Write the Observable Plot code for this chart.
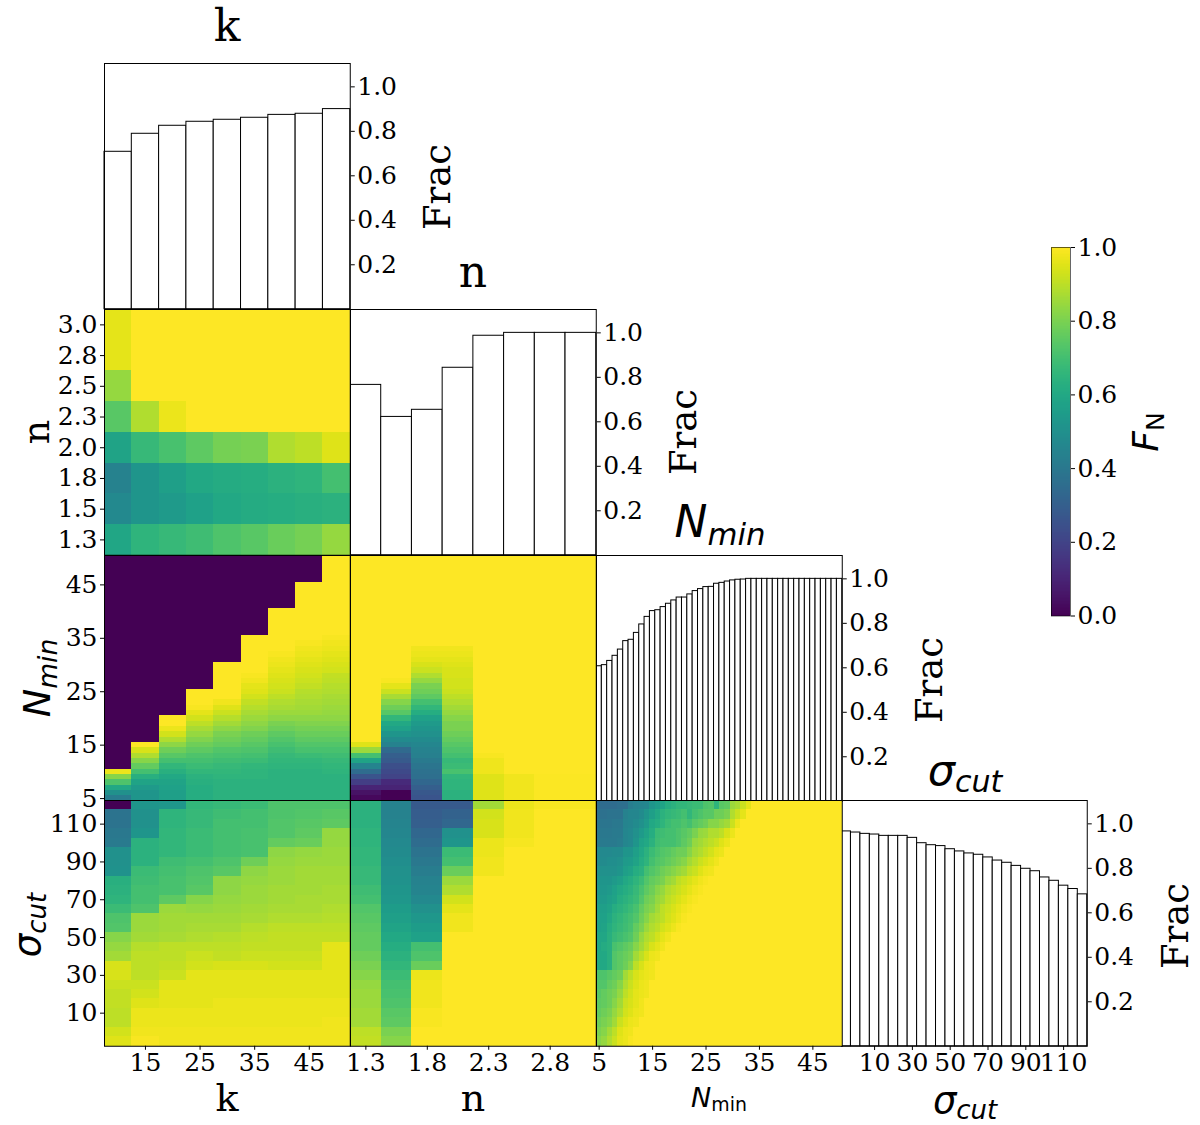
<!DOCTYPE html>
<html><head><meta charset="utf-8">
<script src="https://cdn.jsdelivr.net/npm/d3@7"></script>
<script src="https://cdn.jsdelivr.net/npm/@observablehq/plot@0.6"></script>
<style>
html,body{margin:0;padding:0;background:#fff}
#fig{position:relative;width:1200px;height:1125px;overflow:hidden}
#fig svg{position:absolute;max-width:none;background:none;overflow:visible}
.lab{position:absolute;white-space:nowrap;line-height:1;color:#000}
.lab sub{font-size:.7em;line-height:0;vertical-align:-.25em}
.serif{font-family:"DejaVu Serif",serif}
.sans{font-family:"DejaVu Sans",sans-serif}
</style></head><body><div id="fig"></div>
<script>
const kBins=[10,15,20,25,30,35,40,45,50];
const nBins=[1.25,1.5,1.75,2,2.25,2.5,2.75,3];
const nminBins=[5,6,7,8,9,10,11,12,13,14,15,16,17,18,19,20,21,22,23,24,25,26,27,28,29,30,31,32,33,34,35,36,37,38,39,40,41,42,43,44,45,46,47,48,49,50];
const sigmaBins=[-5,0,5,10,15,20,25,30,35,40,45,50,55,60,65,70,75,80,85,90,95,100,105,110,115,120];
const kTicks=[15,25,35,45], nTicks=[1.25,1.75,2.25,2.75], nminTicks=[5,15,25,35,45], sigmaTicks=[10,30,50,70,90,110];
const fracTicks=[0.2,0.4,0.6,0.8,1.0], colorbarTicks=[0,0.2,0.4,0.6,0.8,1.0];

const fracK=[.708,.789,.825,.843,.852,.861,.874,.879,.90];
const fracN=[.766,.622,.654,.843,.987,1,1,1];
const fracNmin=[.607,.612,.631,.654,.682,.72,.726,.757,.795,.829,.855,.859,.873,.888,.903,.916,.916,.93,.945,.954,.963,.964,.978,.982,.988,.993,.996,.997,1,1,1,1,1,1,1,1,1,1,1,1,1,1,1,1,1,1];
const fracSigma=[.966,.961,.955,.952,.946,.946,.946,.937,.913,.904,.9,.886,.876,.867,.861,.849,.835,.825,.811,.798,.787,.759,.744,.722,.707,.683];

// rows n = 3.0 ... 1.25, columns k
const heatKN=[
[.96,1,1,1,1,1,1,1,1],
[.96,1,1,1,1,1,1,1,1],
[.84,1,1,1,1,1,1,1,1],
[.74,.88,.97,1,1,1,1,1,1],
[.58,.67,.71,.75,.79,.8,.88,.9,.95],
[.44,.52,.56,.6,.61,.62,.64,.65,.7],
[.47,.52,.54,.57,.6,.61,.62,.63,.64],
[.59,.65,.67,.69,.72,.74,.77,.79,.84]];

// columns k, values from Nmin=5 up; saturated to 1 up to Nmin=k, 0 above
const heatKNmin=[
[.42,.5,.6,.72,.82,.97],
[.52,.52,.54,.58,.63,.7,.76,.82,.88,.94],
[.56,.56,.57,.58,.6,.63,.66,.7,.74,.78,.83,.88,.93,.97],
[.62,.62,.62,.63,.64,.66,.68,.7,.72,.75,.78,.81,.84,.87,.9,.93,.96,.99],
[.64,.64,.64,.64,.65,.66,.67,.69,.71,.73,.76,.78,.8,.83,.86,.89,.92,.95,.98],
[.64,.64,.64,.64,.65,.65,.66,.68,.7,.72,.74,.76,.78,.81,.83,.85,.87,.89,.91,.93,.95,.96,.98,.99],
[.64,.64,.64,.64,.64,.64,.65,.66,.67,.69,.71,.73,.75,.78,.8,.83,.85,.87,.88,.9,.92,.93,.94,.95,.96,.97,.98,.99],
[.64,.64,.64,.64,.64,.64,.65,.66,.68,.71,.73,.75,.77,.79,.81,.83,.85,.86,.87,.88,.89,.91,.92,.93,.94,.95,.96,.97,.98,.99],
[.64,.64,.64,.64,.64,.65,.66,.67,.69,.71,.73,.75,.77,.79,.81,.83,.84,.85,.86,.87,.88,.89,.9,.91,.93,.94,.95,.96,.97,.98,.99]];

// columns n, values from Nmin=5 up; saturated to 1 above
const heatNNmin=[
[.02,.05,.1,.18,.26,.35,.45,.58,.7,.85,.95],
[0,0,.1,.12,.2,.22,.24,.28,.3,.34,.44,.48,.52,.57,.6,.66,.74,.78,.82,.87,.92,.96,.99],
[.26,.27,.3,.33,.36,.37,.39,.41,.43,.44,.46,.48,.5,.52,.54,.57,.62,.66,.7,.75,.78,.8,.84,.88,.92,.94,.96,.97,.98],
[.64,.64,.65,.65,.66,.71,.68,.67,.7,.72,.74,.76,.78,.8,.8,.82,.84,.86,.88,.9,.92,.93,.93,.94,.94,.95,.96,.97,.98],
[.95,.95,.95,.95,.95,.975,.975,.975,.99],
[.98,.98,.98,.98,.98],
[.995,.995,.995,.995,.995],
[.995,.995,.995,.995,.995]];

// columns k, values from the top sigma row downward
const heatKSigma=[
[0,.38,.38,.4,.41,.5,.5,.51,.63,.64,.65,.68,.72,.73,.82,.84,.86,.94,.94,.92,.91,.91,.9,.9,.93,.95],
[.52,.5,.5,.52,.64,.64,.64,.68,.69,.7,.7,.72,.85,.85,.86,.89,.9,.9,.9,.92,.93,.95,.97,.97,.98,.99],
[.53,.65,.65,.66,.66,.66,.69,.7,.71,.71,.75,.85,.86,.86,.87,.9,.9,.91,.92,.96,.96,.96,.97,.97,.98,.98],
[.66,.67,.67,.68,.68,.68,.7,.72,.73,.74,.82,.84,.86,.87,.88,.9,.92,.93,.96,.96,.96,.96,.97,.97,.98,.98],
[.67,.69,.7,.7,.7,.7,.72,.74,.83,.83,.84,.85,.86,.87,.89,.9,.91,.94,.96,.96,.96,.97,.97,.97,.98,.98],
[.68,.7,.7,.71,.71,.71,.78,.83,.84,.85,.85,.86,.87,.89,.9,.91,.92,.94,.96,.96,.96,.97,.97,.97,.98,.98],
[.72,.72,.73,.73,.76,.83,.84,.85,.85,.86,.86,.87,.88,.9,.91,.91,.92,.93,.96,.96,.96,.97,.97,.97,.98,.98],
[.72,.73,.74,.75,.77,.84,.85,.86,.86,.86,.87,.87,.88,.9,.91,.91,.92,.93,.96,.96,.96,.97,.97,.97,.98,.98],
[.72,.74,.75,.84,.84,.85,.85,.86,.86,.87,.87,.88,.89,.9,.91,.96,.96,.96,.96,.96,.96,.97,.97,.98,.98,.98]];

// columns n, values from the top sigma row downward; saturated to 1 after
const heatNSigma=[
[.64,.64,.64,.65,.65,.66,.66,.67,.67,.69,.7,.73,.74,.75,.76,.76,.78,.8,.82,.84,.85,.85,.86,.86,.9,.91],
[.44,.44,.45,.46,.47,.48,.49,.5,.51,.52,.53,.55,.56,.58,.6,.62,.64,.66,.68,.7,.71,.72,.74,.75,.8,.82],
[.28,.29,.3,.33,.35,.38,.4,.42,.44,.45,.47,.5,.53,.55,.57,.7,.72,.77,.97,.98,.98,.98,.99,.99],
[.28,.31,.33,.5,.52,.68,.7,.77,.85,.88,.93,.96,.98,.98],
[.86,.93,.94,.94,.97,.97,.98,.98],
[.97,.98,.98,.98,.985],
[.99],
[.99]];

// rows from the top sigma row downward, columns Nmin; saturated to 1 after
const heatNminSigma=[
[.35,.35,.35,.35,.36,.36,.42,.44,.45,.46,.52,.55,.58,.62,.64,.66,.66,.67,.68,.68,.72,.73,.65,.74,.75,.85,.87,.92,.96],
[.37,.37,.38,.38,.38,.44,.46,.46,.48,.52,.56,.6,.64,.66,.67,.68,.7,.66,.7,.72,.74,.74,.78,.78,.8,.88,.92,.96],
[.39,.39,.39,.4,.4,.45,.46,.48,.5,.54,.6,.62,.65,.68,.7,.7,.72,.7,.74,.76,.78,.82,.82,.84,.86,.92,.97],
[.4,.4,.4,.41,.41,.46,.47,.5,.54,.58,.62,.68,.69,.7,.7,.72,.74,.76,.8,.84,.85,.88,.88,.9,.94,.97],
[.41,.41,.41,.41,.42,.46,.47,.52,.58,.6,.64,.69,.7,.7,.7,.72,.75,.78,.84,.86,.88,.9,.92,.95,.97],
[.47,.47,.47,.48,.48,.52,.52,.56,.6,.64,.68,.71,.73,.74,.76,.78,.78,.82,.86,.88,.91,.93,.96,.97],
[.48,.48,.49,.49,.5,.54,.55,.58,.62,.65,.7,.73,.74,.76,.78,.8,.82,.86,.89,.92,.94,.96,.98],
[.5,.5,.5,.5,.52,.56,.58,.62,.64,.7,.73,.75,.78,.8,.82,.84,.86,.9,.92,.95,.97,.98],
[.52,.52,.52,.54,.56,.6,.62,.65,.68,.73,.76,.78,.8,.84,.86,.9,.92,.94,.96,.98,.99],
[.53,.53,.54,.57,.6,.62,.64,.67,.71,.75,.78,.82,.84,.88,.9,.92,.94,.96,.98,.99],
[.54,.54,.56,.58,.62,.64,.66,.68,.73,.78,.8,.84,.86,.9,.92,.94,.96,.98,.99],
[.56,.56,.58,.62,.64,.66,.68,.71,.76,.8,.82,.86,.9,.92,.94,.96,.98,.99],
[.57,.57,.6,.64,.66,.68,.7,.73,.78,.82,.86,.88,.9,.93,.95,.97,.99],
[.57,.58,.62,.65,.67,.69,.71,.76,.8,.85,.88,.9,.93,.95,.97,.99],
[.59,.59,.63,.67,.69,.71,.73,.78,.84,.88,.9,.93,.96,.98],
[.59,.61,.63,.71,.73,.75,.77,.82,.86,.9,.94,.96,.98],
[.6,.6,.63,.73,.75,.77,.79,.86,.9,.94,.97,.98],
[.6,.6,.63,.73,.75,.78,.82,.9,.94,.97,.98],
[.72,.72,.74,.76,.78,.86,.9,.94,.96,.97,.98],
[.73,.73,.76,.78,.82,.88,.92,.95,.97,.98],
[.74,.76,.78,.8,.84,.9,.93,.96,.97,.98],
[.75,.76,.78,.82,.86,.92,.94,.96,.98],
[.76,.78,.8,.84,.88,.93,.95,.97,.98],
[.78,.8,.82,.86,.92,.95,.97,.98],
[.8,.82,.86,.9,.95,.97,.98],
[.82,.84,.88,.92,.96,.97,.99]];

const fig=document.getElementById("fig");
const S=245.75, L=[104,349.75,595.5,841.25], T=[63,308.75,554.5,800.25];
const mL=90,mR=90,mT=6,mB=46;
const colorOpt={type:"linear",scheme:"viridis",domain:[0,1]};
const font={fontFamily:"'DejaVu Serif',serif",fontSize:"25px",background:"none",overflow:"visible",color:"#000"};
const f1=d3.format(".1f");

function place(svg,l,t,ml,mt){svg.style.left=(l-ml)+"px";svg.style.top=(t-mt)+"px";fig.appendChild(svg);}

function heat(col,row,cells,xDom,yDom,xT,yT,xFmt,yFmt){
  const marks=[Plot.cell(cells,{x:"x",y:"y",fill:"v",shapeRendering:"crispEdges"})];
  if(yT) marks.push(Plot.axisY({ticks:yT,tickFormat:yFmt,tickSize:4,tickPadding:3,label:null}));
  if(xT) marks.push(Plot.axisX({ticks:xT,tickFormat:xFmt,tickSize:4,tickPadding:3,label:null}));
  marks.push(Plot.frame({stroke:"#000",strokeWidth:1}));
  place(Plot.plot({width:S+mL+mR,height:S+mT+mB,marginLeft:mL,marginRight:mR,marginTop:mT,marginBottom:mB,
    style:font,color:colorOpt,
    x:{type:"band",domain:xDom,padding:0,round:false,axis:xT?undefined:null},
    y:{type:"band",domain:yDom,padding:0,round:false,axis:yT?undefined:null},marks}),L[col],T[row],mL,mT);
}
function hist(i,bins,vals){
  const data=bins.map((b,j)=>({b,v:vals[j]}));
  place(Plot.plot({width:S+mL+mR,height:S+mT+mB,marginLeft:mL,marginRight:mR,marginTop:mT,marginBottom:mB,
    style:font,
    x:{type:"band",domain:bins,padding:0,round:false,axis:null},
    y:{domain:[0,1.105],axis:null},
    marks:[Plot.barY(data,{x:"b",y:"v",fill:"#fff",stroke:"#000",strokeWidth:1}),
      Plot.axisY({anchor:"right",ticks:fracTicks,tickFormat:".1f",tickSize:4,tickPadding:3,label:null}),
      Plot.frame({stroke:"#000",strokeWidth:1})]}),L[i],T[i],mL,mT);
}
const asc=a=>a.slice().reverse();

hist(0,kBins,fracK);
hist(1,nBins,fracN);
hist(2,nminBins,fracNmin);
hist(3,sigmaBins,fracSigma);

// k x n
const nDesc=asc(nBins), sigDesc=asc(sigmaBins), nminDesc=asc(nminBins);
heat(0,1,heatKN.flatMap((r,i)=>r.map((v,j)=>({x:kBins[j],y:nDesc[i],v}))),kBins,nDesc,null,nBins,null,f1);
// k x Nmin
heat(0,2,kBins.flatMap((k,j)=>nminBins.map((N,i)=>({x:k,y:N,v:N>k?0:(heatKNmin[j][i]??1)}))),kBins,nminDesc,null,nminTicks,null,String);
// n x Nmin
heat(1,2,nBins.flatMap((n,j)=>nminBins.map((N,i)=>({x:n,y:N,v:heatNNmin[j][i]??1}))),nBins,nminDesc,null,null);
// k x sigma
heat(0,3,kBins.flatMap((k,j)=>sigDesc.map((s,i)=>({x:k,y:s,v:heatKSigma[j][i]}))),kBins,sigDesc,kTicks,sigmaTicks,String,String);
// n x sigma
heat(1,3,nBins.flatMap((n,j)=>sigDesc.map((s,i)=>({x:n,y:s,v:heatNSigma[j][i]??1}))),nBins,sigDesc,nTicks,null,f1);
// Nmin x sigma
heat(2,3,sigDesc.flatMap((s,i)=>nminBins.map((N,j)=>({x:N,y:s,v:heatNminSigma[i][j]??1}))),nminBins,sigDesc,nminTicks,null,String);
// sigma x-axis tick labels for the last column
place(Plot.plot({width:S+mL+mR,height:mT+mB+1,marginLeft:mL,marginRight:mR,marginTop:0,marginBottom:mB,style:font,
  x:{type:"band",domain:sigmaBins,padding:0,round:false},y:{axis:null},
  marks:[Plot.axisX({ticks:sigmaTicks,tickFormat:String,tickSize:4,tickPadding:3,label:null})]}),L[3],T[3]+S-mT-1,mL,0);

// colour bar
const colorLevels=d3.range(0,256).map(i=>i/256);
place(Plot.plot({width:19+100,height:368.5+10,marginLeft:0,marginRight:100,marginTop:5,marginBottom:5,style:font,
  color:colorOpt,x:{axis:null},y:{domain:[0,1],axis:null},
  marks:[Plot.rect(colorLevels,{y1:d=>d,y2:d=>d+1/256,fill:d=>d,shapeRendering:"crispEdges"}),
    Plot.axisY({anchor:"right",ticks:colorbarTicks,tickFormat:".1f",tickSize:4,tickPadding:3,label:null}),
    Plot.frame({stroke:"#000",strokeWidth:1,strokeOpacity:.6})]}),1051,247,0,5);

function label(html,x,y,size,cls,rot){
  const d=document.createElement("div");d.className="lab "+cls;d.innerHTML=html;
  d.style.left=x+"px";d.style.top=y+"px";d.style.fontSize=size+"px";
  d.style.transform="translate(-50%,-50%)"+(rot?" rotate(-90deg)":"");
  fig.appendChild(d);
}
const nminT="<i>N<sub>min</sub></i>", sigT="<i>σ<sub>cut</sub></i>";
label("k",227,26,44,"serif");
label("n",473,272,44,"serif");
label(nminT,720,522,44,"sans");
label(sigT,965,770,43,"sans");
label("k",227,1098,38,"serif");
label("n",473,1098,38,"serif");
label("<i>N</i><sub>min</sub>",719,1097,27,"sans");
label(sigT,965,1100,37,"sans");
label("n",36,432,38,"serif",true);
label(nminT,37,678,38,"sans",true);
label(sigT,27,925,37,"sans",true);
label("Frac",437,187,37,"serif",true);
label("Frac",683,432,37,"serif",true);
label("Frac",929,680,37,"serif",true);
label("Frac",1175,926,37,"serif",true);
label("<i>F</i><sub>N</sub>",1146,432,36,"sans",true);
</script></body></html>
